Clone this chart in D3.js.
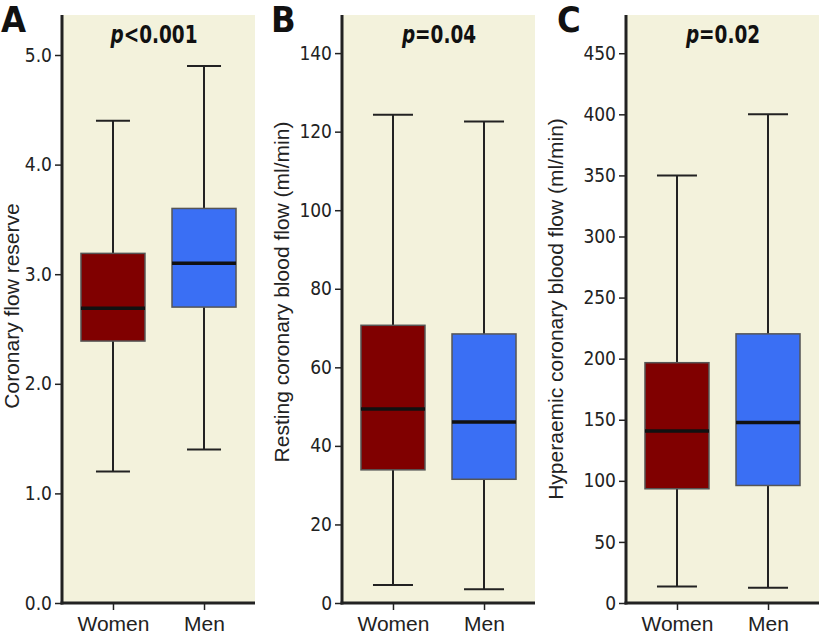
<!DOCTYPE html>
<html>
<head>
<meta charset="utf-8">
<script src="https://cdn.jsdelivr.net/npm/d3@7"></script>
<style>
  body { margin: 0; background: #ffffff; }
  svg { display: block; }
</style>
</head>
<body>
<svg id="chart" width="819" height="635"></svg>
<script>
// ---- data (five-number summaries: min, Q1, median, Q3, max) ----
const categories = ["Women", "Men"];
const crrWomen = [1.2, 2.39, 2.69, 3.19, 4.4];
const crrMen = [1.4, 2.70, 3.10, 3.60, 4.9];
const restWomen = [4.6, 33.9, 49.4, 70.7, 124.3];
const restMen = [3.5, 31.5, 46.1, 68.5, 122.6];
const hyperWomen = [13.6, 93.5, 140.7, 196.7, 350];
const hyperMen = [12.5, 96.2, 147.8, 220.3, 400];
const ticksA = [0, 1, 2, 3, 4, 5];
const ticksB = [0, 20, 40, 60, 80, 100, 120, 140];
const ticksC = [0, 50, 100, 150, 200, 250, 300, 350, 400, 450];
const panelLetters = ["A", "B", "C"];
const pLabels = [["p", "<0.001"], ["p", "=0.04"], ["p", "=0.02"]];
const yTitles = ["Coronary flow reserve", "Resting coronary blood flow (ml/min)", "Hyperaemic coronary blood flow (ml/min)"];

const colors = ["#800000", "#3a6ff4"];
const svg = d3.select("#chart");

const panels = [
  { x0: 62, yMax: 5.365, ticks: ticksA, fmt: d3.format(".1f"), data: [crrWomen, crrMen], cap: 34, letterX: 1, titleX: 19, titleY: 306, pCx: 92 },
  { x0: 342, yMax: 149.7, ticks: ticksB, fmt: d3.format("d"), data: [restWomen, restMen], cap: 40, letterX: 271, titleX: 289, titleY: 292, pCx: 97 },
  { x0: 626, yMax: 481.3, ticks: ticksC, fmt: d3.format("d"), data: [hyperWomen, hyperMen], cap: 40, letterX: 557, titleX: 563, titleY: 309, pCx: 97 }
];

const plotTop = 15, plotBottom = 603, pw = 193, boxW = 64;

panels.forEach((p, i) => {
  const g = svg.append("g").attr("transform", `translate(${p.x0},0)`);
  const x = d3.scalePoint().domain(categories).range([0, pw]).padding(0.56);
  const y = d3.scaleLinear().domain([0, p.yMax]).range([plotBottom, plotTop]);

  g.append("rect").attr("x", 0).attr("y", plotTop).attr("width", pw).attr("height", plotBottom - plotTop)
    .attr("fill", "#f3f2dc");

  // boxes
  categories.forEach((c, j) => {
    const d = p.data[j];
    const cx = x(c);
    g.append("line").attr("x1", cx).attr("x2", cx).attr("y1", y(d[0])).attr("y2", y(d[1]))
      .attr("stroke", "#222").attr("stroke-width", 2);
    g.append("line").attr("x1", cx).attr("x2", cx).attr("y1", y(d[3])).attr("y2", y(d[4]))
      .attr("stroke", "#222").attr("stroke-width", 2);
    [d[0], d[4]].forEach(v => {
      g.append("line").attr("x1", cx - p.cap / 2).attr("x2", cx + p.cap / 2)
        .attr("y1", y(v)).attr("y2", y(v)).attr("stroke", "#222").attr("stroke-width", 2);
    });
    g.append("rect").attr("x", cx - boxW / 2).attr("y", y(d[3]))
      .attr("width", boxW).attr("height", y(d[1]) - y(d[3]))
      .attr("fill", colors[j]).attr("stroke", "#555").attr("stroke-width", 1.5);
    g.append("line").attr("x1", cx - boxW / 2).attr("x2", cx + boxW / 2)
      .attr("y1", y(d[2])).attr("y2", y(d[2])).attr("stroke", "#111").attr("stroke-width", 3.5);
  });

  // axes
  const yAxis = g.append("g").call(d3.axisLeft(y).tickValues(p.ticks).tickFormat(p.fmt).tickSize(7).tickPadding(3).tickSizeOuter(0));
  yAxis.select(".domain").attr("stroke", "#222").attr("stroke-width", 3)
    .attr("d", `M0,${plotTop}V${plotBottom + 1.5}`);
  yAxis.selectAll(".tick line").attr("stroke", "#222").attr("stroke-width", 1.5);
  yAxis.selectAll(".tick text").attr("fill", "#222")
    .style("font-family", "'Liberation Sans Narrow', 'DejaVu Sans Condensed', sans-serif").style("font-size", "19px");

  const xAxis = g.append("g").attr("transform", `translate(0,${plotBottom})`)
    .call(d3.axisBottom(x).tickSize(7).tickPadding(6).tickSizeOuter(0));
  xAxis.select(".domain").attr("stroke", "#222").attr("stroke-width", 3)
    .attr("d", `M-1.5,0H${pw}`);
  xAxis.selectAll(".tick line").attr("stroke", "#222").attr("stroke-width", 1.5);
  xAxis.selectAll(".tick text").attr("fill", "#222")
    .style("font-family", "'Liberation Sans', Arial, sans-serif").style("font-size", "21px");

  // p-value title (condensed horizontally)
  const t = g.append("text").attr("transform", `translate(${p.pCx},43) scale(0.82,1)`)
    .attr("text-anchor", "middle").attr("fill", "#111")
    .style("font-family", "'Liberation Sans Narrow', 'DejaVu Sans Condensed', sans-serif")
    .style("font-size", "25px").style("font-weight", "bold");
  t.append("tspan").style("font-style", "italic").text(pLabels[i][0]);
  t.append("tspan").text(pLabels[i][1]);

  // y title
  svg.append("text").attr("transform", `translate(${p.titleX},${p.titleY}) rotate(-90)`)
    .attr("text-anchor", "middle").attr("fill", "#222")
    .style("font-family", "'Liberation Sans', Arial, sans-serif").style("font-size", "21px")
    .text(yTitles[i]);

  // panel letter
  svg.append("text").attr("x", p.letterX).attr("y", 32).attr("fill", "#111")
    .style("font-family", "'Liberation Sans Narrow', 'DejaVu Sans Condensed', sans-serif")
    .style("font-size", "36px").style("font-weight", "bold")
    .text(panelLetters[i]);
});
</script>
</body>
</html>
